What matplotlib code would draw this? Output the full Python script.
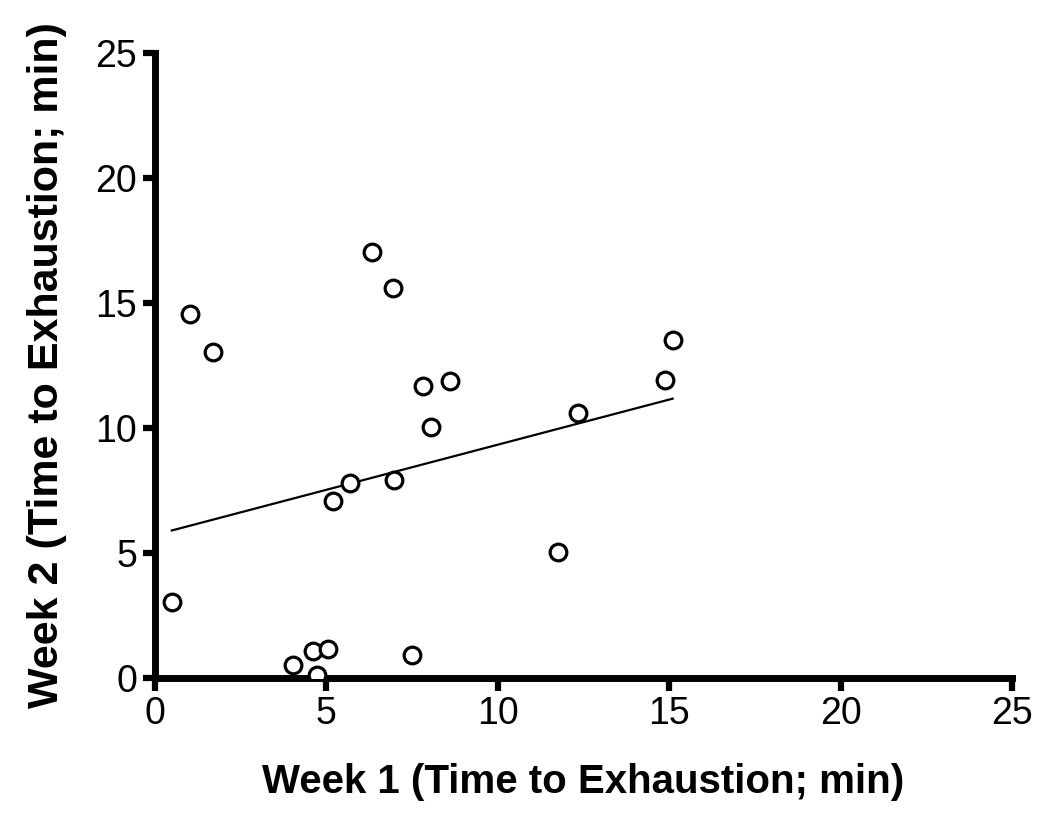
import numpy as np
import matplotlib
matplotlib.use("Agg")
from matplotlib import pyplot as plt

# Time to exhaustion (min)
week1 = [0.49, 1.02, 1.70, 4.04, 4.60, 5.04, 4.74, 5.20, 5.69, 6.32,
         6.95, 6.98, 7.51, 7.81, 8.05, 8.61, 11.75, 12.35, 14.88, 15.10]
week2 = [3.05, 14.55, 13.05, 0.52, 1.09, 1.15, 0.12, 7.08, 7.81, 17.05,
         15.59, 7.92, 0.91, 11.69, 10.05, 11.89, 5.04, 10.60, 11.92, 13.50]
ticks = [0, 5, 10, 15, 20, 25]

plt.rcParams['font.family'] = ['Liberation Sans', 'DejaVu Sans']

fig = plt.figure(figsize=(10.5, 8.3), dpi=100)
ax = fig.add_axes([155 / 1050, 152 / 830, 857 / 1050, 625 / 830])

ax.plot(week1, week2, 'o', ms=12, mfc='white', mec='black', mew=2.3, zorder=3)

# linear regression line over the observed week 1 range
slope, intercept = np.polyfit(week1, week2, 1)
xfit = np.array([min(week1), max(week1)])
ax.plot(xfit, intercept + slope * xfit, 'k-', lw=1.6)

ax.set_xlim(0, 25)
ax.set_ylim(0, 25)
ax.set_xticks(ticks)
ax.set_yticks(ticks)
for side in ['top', 'right']:
    ax.spines[side].set_visible(False)
for side in ['left', 'bottom']:
    ax.spines[side].set_linewidth(5)
    ax.spines[side].set_capstyle('projecting')
ax.tick_params(width=4.5, length=9, labelsize=27, pad=4)

ax.set_xlabel('Week 1 (Time to Exhaustion; min)', fontsize=29, fontweight='bold', labelpad=22)
ax.set_ylabel('Week 2 (Time to Exhaustion; min)', fontsize=31, fontweight='bold', labelpad=20)

fig.savefig('out.png', dpi=100)
